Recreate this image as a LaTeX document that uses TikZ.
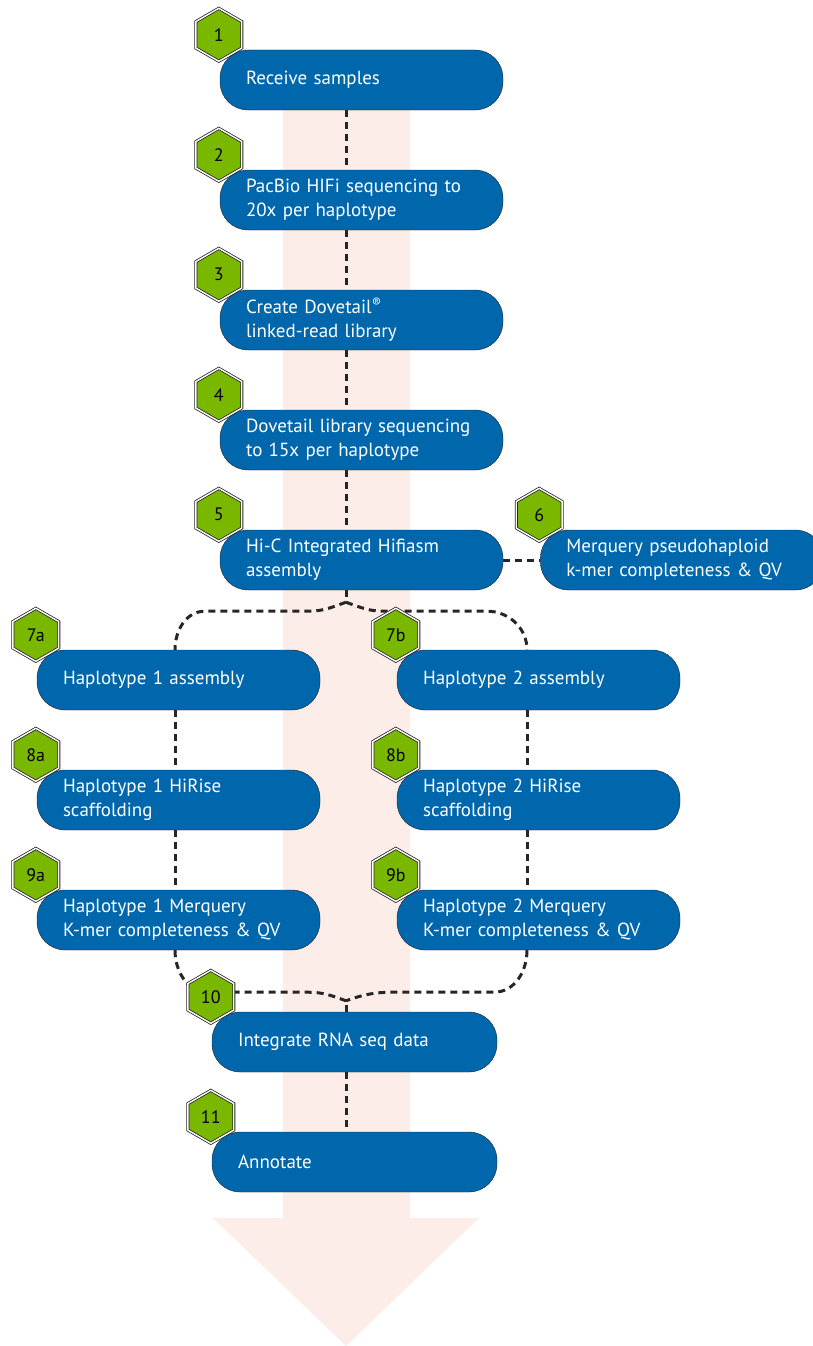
\documentclass[tikz,border=0pt]{standalone}
\usepackage{fontspec}
\setmainfont{PT Sans}
\usetikzlibrary{shapes,positioning}

\begin{document}
\begin{tikzpicture}[x=1pt,y=1pt]
\def\D{120pt}
\definecolor{task color}{RGB}{0,103,172}
\definecolor{badge color}{RGB}{122,184,0}
\definecolor{flow color}{RGB}{253,237,232}
\definecolor{link color}{RGB}{38,38,38}
\tikzset{
  node distance=\D,
  every node/.style={font=\fontsize{19}{24}\selectfont},
  task/.style={fill=task color,draw=black!85,thin,rounded corners=28pt,text=white,
    align=left,text width=231pt,inner xsep=26pt,minimum height=60pt},
  wide task/.style={task,text width=233pt},
  badge/.style={regular polygon,regular polygon sides=6,shape border rotate=30,
    fill=badge color,draw=black!85,line width=0.8pt,double=white,double distance=1.4pt,
    minimum size=53pt,inner sep=0pt,font=\fontsize{18}{20}\selectfont},
  link/.style={link color,line width=3pt,dash pattern=on 7pt off 5pt}
}
\clip (0,0) rectangle (813,-1346);
\useasboundingbox (0,0) rectangle (813,-1346);

%FLOW ARROW
\fill[flow color] (283,-80) -- (283,-1218) -- (213,-1218) -- (346,-1346)
  -- (479,-1218) -- (410,-1218) -- (410,-80) -- cycle;
\coordinate (axis) at (346,0);
\coordinate (left) at (175,0);
\coordinate (right) at (527,0);

%MAIN LINE
\node[task] (b1) at (361.5,-80) {Receive samples};
\node[task] (b2) [below of=b1] {PacBio HIFi sequencing to\\20x per haplotype};
\node[task] (b3) [below of=b2] {Create Dovetail\textsuperscript{\textregistered}\\linked-read library};
\node[task] (b4) [below of=b3] {Dovetail library sequencing\\to 15x per haplotype};
\node[task] (b5) [below of=b4] {Hi-C Integrated Hifiasm\\assembly};
\node[task] (b6) [right=37pt of b5] {Merquery pseudohaploid\\k-mer completeness \& QV};

%HAPLOTYPES
\node[task] (b7a) at (178.5,-680) {Haplotype 1 assembly};
\node[task] (b8a) [below of=b7a] {Haplotype 1 HiRise\\scaffolding};
\node[task] (b9a) [below of=b8a] {Haplotype 1 Merquery\\K-mer completeness \& QV};
\node[task] (b7b) at (538.5,-680) {Haplotype 2 assembly};
\node[task] (b8b) [below of=b7b] {Haplotype 2 HiRise\\scaffolding};
\node[task] (b9b) [below of=b8b] {Haplotype 2 Merquery\\K-mer completeness \& QV};

%FINISH
\node[wide task] (b10) at (354.5,-1042) {Integrate RNA seq data};
\node[wide task] (b11) [below of=b10] {Annotate};

%PATHS
\draw[link] (b1.south -| axis) -- (b2.north -| axis);
\draw[link] (b2.south -| axis) -- (b3.north -| axis);
\draw[link] (b3.south -| axis) -- (b4.north -| axis);
\draw[link] (b4.south -| axis) -- (b5.north -| axis);
\draw[link] (b5.east) -- (b6.west);
%%fork
\draw[link] (b5.south -| axis) -- ++(0,-12) coordinate (fork);
\draw[link] (fork) to[out=-160,in=0] ++(-38,-9) -- ++(-103,0) to[out=180,in=90] (b7a.north -| left);
\draw[link] (fork) to[out=-20,in=180] ++(38,-9) -- ++(103,0) to[out=0,in=90] (b7b.north -| right);
\draw[link] (b7a.south -| left) -- (b8a.north -| left);
\draw[link] (b8a.south -| left) -- (b9a.north -| left);
\draw[link] (b7b.south -| right) -- (b8b.north -| right);
\draw[link] (b8b.south -| right) -- (b9b.north -| right);
%%join
\draw[link] (b10.north -| axis) -- ++(0,11) coordinate (join);
\draw[link] (b9a.south -| left) to[out=-90,in=180] ++(33,-42) -- ++(100,0) to[out=0,in=160] (join);
\draw[link] (b9b.south -| right) to[out=-90,in=0] ++(-33,-42) -- ++(-100,0) to[out=180,in=20] (join);
\draw[link] (b10.south -| axis) -- (b11.north -| axis);

%BADGES
\foreach \n/\t in {b1/1,b2/2,b3/3,b4/4,b5/5,b6/6,b7a/7a,b7b/7b,b8a/8a,b8b/8b,b9a/9a,b9b/9b,b10/10,b11/11}
  \node[badge] (h\n) at ([shift={(-1pt,15pt)}]\n.north west) {\t};

\end{tikzpicture}
\end{document}
